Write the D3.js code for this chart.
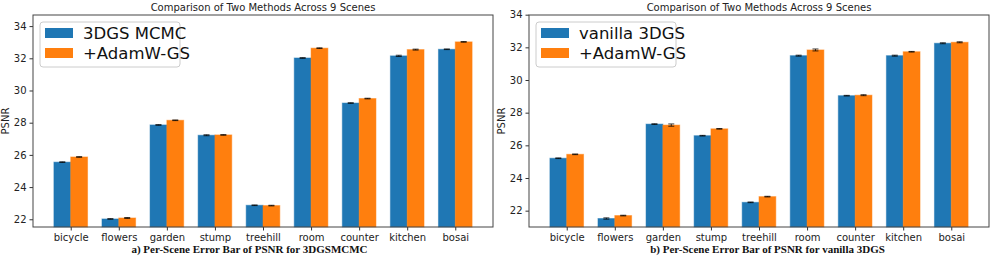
<!DOCTYPE html>
<html>
<head>
<meta charset="utf-8">
<script src="https://cdn.jsdelivr.net/npm/d3@7"></script>
<style>
  body { margin: 0; background: #fff; }
  svg { display: block; font-family: "DejaVu Sans", sans-serif; }
</style>
</head>
<body>
<svg id="chart" width="996" height="259"></svg>
<script>
'use strict';

// scenes on the x axis
var scenes = ['bicycle', 'flowers', 'garden', 'stump', 'treehill', 'room', 'counter', 'kitchen', 'bosai'];
var yTicks = [22, 24, 26, 28, 30, 32, 34];

// panel a) 3DGS MCMC vs +AdamW-GS
var mcmcBase = [25.55, 22.02, 27.86, 27.22, 22.87, 32.02, 29.22, 32.15, 32.56];
var mcmcBaseErr = [0.02, 0.02, 0.02, 0.03, 0.02, 0.02, 0.02, 0.04, 0.02];
var mcmcAdam = [25.87, 22.08, 28.15, 27.24, 22.85, 32.63, 29.50, 32.54, 33.02];
var mcmcAdamErr = [0.02, 0.03, 0.02, 0.02, 0.02, 0.02, 0.02, 0.03, 0.02];

// panel b) vanilla 3DGS vs +AdamW-GS
var vanBase = [25.21, 21.52, 27.30, 26.59, 22.51, 31.49, 29.04, 31.49, 32.25];
var vanBaseErr = [0.02, 0.04, 0.02, 0.02, 0.02, 0.03, 0.02, 0.03, 0.03];
var vanAdam = [25.45, 21.70, 27.24, 27.01, 22.86, 31.84, 29.07, 31.73, 32.31];
var vanAdamErr = [0.02, 0.02, 0.07, 0.02, 0.02, 0.06, 0.03, 0.02, 0.03];

var blue = '#1f77b4';
var orange = '#ff7f0e';
var svg = d3.select('#chart');

function panel(opt) {
  var g = svg.append('g');
  var x = d3.scaleLinear().domain([-0.785, scenes.length - 1 + 0.785]).range([opt.left, opt.right]);
  var y = d3.scaleLinear().domain(opt.yDomain).range([opt.bottom, opt.top]);
  var bw = 0.35;

  // bars
  var series = [
    {vals: opt.base, err: opt.baseErr, color: blue, off: -bw / 2},
    {vals: opt.adam, err: opt.adamErr, color: orange, off: bw / 2}
  ];
  series.forEach(function(s) {
    var bars = g.append('g');
    bars.selectAll('rect').data(s.vals).enter().append('rect')
      .attr('x', function(d, i) { return x(i + s.off - bw / 2); })
      .attr('width', x(bw) - x(0))
      .attr('y', function(d) { return y(d); })
      .attr('height', function(d) { return opt.bottom - y(d); })
      .attr('fill', s.color)
      .attr('stroke', s.color)
      .attr('stroke-opacity', 0.5)
      .attr('stroke-width', 1);
    // error bars
    var eb = g.append('g').attr('stroke', '#000').attr('stroke-opacity', 0.75).attr('stroke-width', 1);
    s.vals.forEach(function(d, i) {
      var cx = x(i + s.off);
      var lo = y(d - s.err[i]), hi = y(d + s.err[i]);
      eb.append('line').attr('x1', cx).attr('x2', cx).attr('y1', lo).attr('y2', hi);
      eb.append('line').attr('x1', cx - 3).attr('x2', cx + 3).attr('y1', lo).attr('y2', lo);
      eb.append('line').attr('x1', cx - 3).attr('x2', cx + 3).attr('y1', hi).attr('y2', hi);
    });
  });

  // axes
  var xAxis = d3.axisBottom(x).tickValues(d3.range(scenes.length))
    .tickFormat(function(i) { return scenes[i]; }).tickSize(3.5).tickPadding(3);
  var gx = g.append('g').attr('transform', 'translate(0,' + opt.bottom + ')').call(xAxis);
  var yAxis = d3.axisLeft(y).tickValues(yTicks).tickSize(3.5).tickPadding(3);
  var gy = g.append('g').attr('transform', 'translate(' + opt.left + ',0)').call(yAxis);
  [gx, gy].forEach(function(a) {
    a.attr('font-family', null).attr('font-size', null);
    a.select('.domain').remove();
    a.selectAll('text').style('font-size', '10px').attr('fill', '#222');
    a.selectAll('line').attr('stroke', '#333');
  });

  // frame
  g.append('rect').attr('x', opt.left).attr('y', opt.top)
    .attr('width', opt.right - opt.left).attr('height', opt.bottom - opt.top)
    .attr('fill', 'none').attr('stroke', '#444').attr('stroke-width', 1);

  // y label
  g.append('text').attr('transform', 'translate(' + (opt.left - 24) + ',' + ((opt.top + opt.bottom) / 2) + ') rotate(-90)')
    .attr('text-anchor', 'middle').style('font-size', '10px').attr('fill', '#222').text('PSNR');

  // title
  g.append('text').attr('x', (opt.left + opt.right) / 2).attr('y', opt.top - 4.5)
    .attr('text-anchor', 'middle').style('font-size', '10px').attr('fill', '#222')
    .text('Comparison of Two Methods Across 9 Scenes');

  // legend
  var lx = opt.left + 7, ly = opt.top + 7;
  g.append('rect').attr('x', lx).attr('y', ly).attr('width', 140).attr('height', 45).attr('rx', 3)
    .attr('fill', '#fff').attr('fill-opacity', 0.8).attr('stroke', '#ccc').attr('stroke-width', 1);
  [[blue, opt.names[0]], [orange, opt.names[1]]].forEach(function(it, k) {
    g.append('rect').attr('x', lx + 5).attr('y', ly + 6 + k * 20).attr('width', 28).attr('height', 10).attr('fill', it[0]);
    g.append('text').attr('x', lx + 43).attr('y', ly + 17 + k * 20).style('font-size', '16.5px')
      .attr('fill', '#111').text(it[1]);
  });

  // caption
  svg.append('text').attr('x', opt.capX).attr('y', 253).attr('text-anchor', 'middle')
    .style('font-family', '"Liberation Serif", "Times New Roman", serif').style('font-weight', 'bold')
    .style('font-size', '11px').attr('fill', '#111').text(opt.caption);
}

panel({
  left: 33, right: 493, top: 15, bottom: 227, yDomain: [21.52, 34.69],
  base: mcmcBase, baseErr: mcmcBaseErr, adam: mcmcAdam, adamErr: mcmcAdamErr,
  names: ['3DGS MCMC', '+AdamW-GS'],
  caption: 'a) Per-Scene Error Bar of PSNR for 3DGSMCMC', capX: 249.5
});
panel({
  left: 529, right: 989, top: 15, bottom: 227, yDomain: [21.0, 33.98],
  base: vanBase, baseErr: vanBaseErr, adam: vanAdam, adamErr: vanAdamErr,
  names: ['vanilla 3DGS', '+AdamW-GS'],
  caption: 'b) Per-Scene Error Bar of PSNR for vanilla 3DGS', capX: 767.5
});
</script>
</body>
</html>
